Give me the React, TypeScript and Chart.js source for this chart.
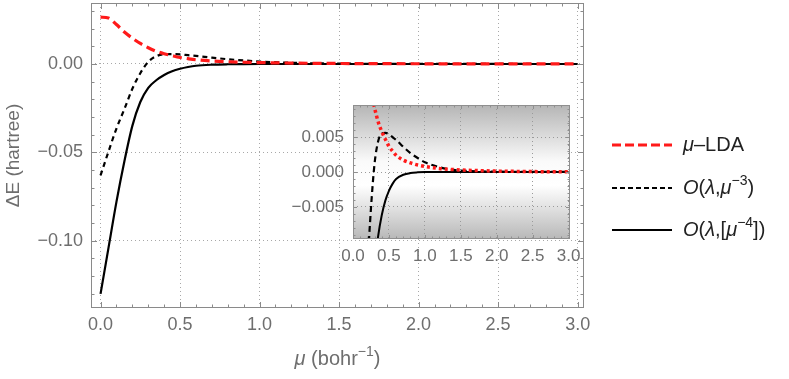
import React, { useEffect, useRef } from 'react';
import { Chart, registerables } from 'chart.js';

Chart.register(...registerables);

// ---------- data ----------
const MU = [0, 0.05, 0.1, 0.15, 0.2, 0.25, 0.3, 0.35, 0.4, 0.45, 0.5, 0.55, 0.6, 0.7, 0.8, 0.9, 1.0, 1.2, 1.4, 1.6, 1.8, 2.0, 2.5, 3.0];
const LDA = [0.0265, 0.026, 0.0223, 0.0181, 0.0146, 0.0116, 0.0092, 0.0072, 0.0058, 0.0047, 0.0037, 0.0030, 0.0024, 0.0017, 0.0013, 0.0010, 0.0008, 0.0005, 0.00035, 0.00025, 0.00018, 0.00013, 0.00006, 0.00003];
const ORDER3 = [-0.063, -0.0495, -0.0365, -0.0255, -0.014, -0.0052, 0.0012, 0.0044, 0.0055, 0.0056, 0.0054, 0.0050, 0.0046, 0.0036, 0.0027, 0.0020, 0.0014, 0.0007, 0.0003, 0.00015, 0.00008, 0.00005, 0.00002, 0.00001];
const ORDER4 = [-0.130, -0.104, -0.078, -0.055, -0.035, -0.0215, -0.0135, -0.0092, -0.0062, -0.0041, -0.0027, -0.0017, -0.0010, -0.0004, -0.00015, -0.00005, 0, 0, 0, 0, 0, 0, 0, 0];

const MAIN_X_TICKS = [0, 0.5, 1.0, 1.5, 2.0, 2.5, 3.0];
const MAIN_Y_TICKS = [-0.1, -0.05, 0];
const INSET_X_TICKS = [0, 0.5, 1.0, 1.5, 2.0, 2.5, 3.0];
const INSET_Y_TICKS = [-0.005, 0, 0.005];

const Y_TITLE = 'ΔE (hartree)';

type Seg = { t: string; it?: boolean; sup?: boolean };
const LEGEND_LABELS: Seg[][] = [
  [{ t: 'μ', it: true }, { t: '–LDA' }],
  [{ t: 'O', it: true }, { t: '(' }, { t: 'λ', it: true }, { t: ',' }, { t: 'μ', it: true }, { t: '−3', sup: true }, { t: ')' }],
  [{ t: 'O', it: true }, { t: '(' }, { t: 'λ', it: true }, { t: ',[' }, { t: 'μ', it: true }, { t: '−4', sup: true }, { t: '])' }],
];
const X_TITLE_SEGS: Seg[] = [{ t: 'μ', it: true }, { t: ' (bohr' }, { t: '−1', sup: true }, { t: ')' }];

// ---------- styles ----------
const FONT = '"Liberation Sans", Arial, Helvetica, sans-serif';
const RED = '#ff1a1a';
const BLACK = '#000000';
const TICK_COLOR = '#6e6e6e';
const FRAME_COLOR = '#8a8a8a';
const GRID_COLOR = '#a8a8a8';

const pts = (xs: number[], ys: number[]) => xs.map((x, i) => ({ x, y: ys[i] }));
const fmtSigned = (v: number, d: number) => {
  const s = Math.abs(v).toFixed(d);
  return v < -1e-12 ? '\u2212' + s : s;
};

function drawRich(ctx: CanvasRenderingContext2D, segs: Seg[], x: number, y: number, size: number, color: string, align: 'left' | 'center') {
  ctx.save();
  ctx.fillStyle = color;
  ctx.textBaseline = 'middle';
  ctx.textAlign = 'left';
  const fontFor = (s: Seg) => `${s.it ? 'italic ' : ''}${s.sup ? Math.round(size * 0.72) : size}px ${FONT}`;
  let w = 0;
  for (const s of segs) {
    ctx.font = fontFor(s);
    w += ctx.measureText(s.t).width;
  }
  let cx = align === 'center' ? x - w / 2 : x;
  for (const s of segs) {
    ctx.font = fontFor(s);
    ctx.fillText(s.t, cx, s.sup ? y - size * 0.36 : y);
    cx += ctx.measureText(s.t).width;
  }
  ctx.restore();
}

type FrameCfg = { xMinor: number; xMajor: number; yMinor: number; yMajor: number; majorLen: number; minorLen: number; color: string };

function drawFrame(chart: any, cfg: FrameCfg) {
  const { ctx, chartArea: a, scales } = chart;
  const xs = scales.x, ys = scales.y;
  ctx.save();
  ctx.strokeStyle = cfg.color;
  ctx.lineWidth = 1;
  ctx.beginPath();
  const isMajor = (v: number, m: number) => Math.abs(v / m - Math.round(v / m)) < 1e-6;
  for (let i = Math.ceil(xs.min / cfg.xMinor - 1e-9); i * cfg.xMinor <= xs.max + 1e-9; i++) {
    const v = i * cfg.xMinor;
    const len = isMajor(v, cfg.xMajor) ? cfg.majorLen : cfg.minorLen;
    const px = Math.round(xs.getPixelForValue(v)) + 0.5;
    ctx.moveTo(px, a.bottom); ctx.lineTo(px, a.bottom - len);
    ctx.moveTo(px, a.top); ctx.lineTo(px, a.top + len);
  }
  for (let i = Math.ceil(ys.min / cfg.yMinor - 1e-9); i * cfg.yMinor <= ys.max + 1e-9; i++) {
    const v = i * cfg.yMinor;
    const len = isMajor(v, cfg.yMajor) ? cfg.majorLen : cfg.minorLen;
    const py = Math.round(ys.getPixelForValue(v)) + 0.5;
    ctx.moveTo(a.left, py); ctx.lineTo(a.left + len, py);
    ctx.moveTo(a.right, py); ctx.lineTo(a.right - len, py);
  }
  ctx.stroke();
  ctx.strokeRect(Math.round(a.left) + 0.5, Math.round(a.top) + 0.5, Math.round(a.right - a.left) - 1, Math.round(a.bottom - a.top) - 1);
  ctx.restore();
}

const LEGEND_STYLES = [
  { color: RED, dash: [9, 4], width: 3.2 },
  { color: BLACK, dash: [5, 3], width: 2 },
  { color: BLACK, dash: [] as number[], width: 2 },
];

const mainPlugin = {
  id: 'mainDecor',
  afterDraw(chart: any) {
    drawFrame(chart, { xMinor: 0.1, xMajor: 0.5, yMinor: 0.01, yMajor: 0.05, majorLen: 6, minorLen: 3.5, color: FRAME_COLOR });
    const { ctx, chartArea: a } = chart;
    drawRich(ctx, X_TITLE_SEGS, (a.left + a.right) / 2, chart.height - 20, 20, TICK_COLOR, 'center');
    const rows = [145, 188, 230];
    LEGEND_LABELS.forEach((segs, i) => {
      const st = LEGEND_STYLES[i];
      ctx.save();
      ctx.strokeStyle = st.color;
      ctx.lineWidth = st.width;
      ctx.setLineDash(st.dash);
      ctx.beginPath();
      ctx.moveTo(612, rows[i]);
      ctx.lineTo(672, rows[i]);
      ctx.stroke();
      ctx.restore();
      drawRich(ctx, segs, 683, rows[i], 20, '#222222', 'left');
    });
  },
};

const insetPlugin = {
  id: 'insetDecor',
  beforeDraw(chart: any) {
    const { ctx, chartArea: a } = chart;
    const g = ctx.createLinearGradient(0, a.top, 0, a.bottom);
    g.addColorStop(0, '#b5b5b5');
    g.addColorStop(0.42, '#fafafa');
    g.addColorStop(0.6, '#ffffff');
    g.addColorStop(1, '#b8b8b8');
    ctx.save();
    ctx.fillStyle = g;
    ctx.fillRect(a.left, a.top, a.right - a.left, a.bottom - a.top);
    ctx.restore();
  },
  afterDraw(chart: any) {
    drawFrame(chart, { xMinor: 0.1, xMajor: 0.5, yMinor: 0.001, yMajor: 0.005, majorLen: 4, minorLen: 2.5, color: '#8f8f8f' });
  },
};

const noVPad = (s: any) => { s.paddingTop = 0; s.paddingBottom = 0; };

function mainConfig(): any {
  return {
    type: 'line',
    data: {
      datasets: [
        { label: 'LDA', data: pts(MU, LDA), borderColor: RED, borderWidth: 3.2, borderDash: [9, 5], pointRadius: 0, cubicInterpolationMode: 'monotone', fill: false },
        { label: 'O3', data: pts(MU, ORDER3), borderColor: BLACK, borderWidth: 2.2, borderDash: [5, 4], pointRadius: 0, cubicInterpolationMode: 'monotone', fill: false },
        { label: 'O4', data: pts(MU, ORDER4), borderColor: BLACK, borderWidth: 2.2, pointRadius: 0, cubicInterpolationMode: 'monotone', fill: false },
      ],
    },
    options: {
      responsive: false,
      animation: false,
      events: [],
      layout: { padding: { left: 0, right: 205, top: 3, bottom: 0 } },
      plugins: { legend: { display: false }, tooltip: { enabled: false } },
      scales: {
        x: {
          type: 'linear', min: -0.06, max: 3.04,
          afterBuildTicks: (s: any) => { s.ticks = MAIN_X_TICKS.map((v) => ({ value: v })); },
          afterFit: (s: any) => { s.height = 71; },
          ticks: { callback: (v: any) => Number(v).toFixed(1), color: TICK_COLOR, font: { family: FONT, size: 18 }, padding: 6, autoSkip: false, maxRotation: 0 },
          grid: { color: GRID_COLOR, lineWidth: 1, drawTicks: false },
          border: { display: false, dash: [1, 3] },
        },
        y: {
          type: 'linear', min: -0.138, max: 0.0345,
          afterBuildTicks: (s: any) => { s.ticks = MAIN_Y_TICKS.map((v) => ({ value: v })); },
          afterFit: (s: any) => { s.width = 91; noVPad(s); },
          ticks: { callback: (v: any) => fmtSigned(Number(v), 2), color: TICK_COLOR, font: { family: FONT, size: 18 }, padding: 8, autoSkip: false },
          grid: { color: GRID_COLOR, lineWidth: 1, drawTicks: false },
          border: { display: false, dash: [1, 3] },
          title: { display: true, text: Y_TITLE, color: TICK_COLOR, font: { family: FONT, size: 19 }, padding: { top: 2, bottom: 0 } },
        },
      },
    },
    plugins: [mainPlugin],
  };
}

function insetConfig(): any {
  return {
    type: 'line',
    data: {
      datasets: [
        { label: 'LDA', data: pts(MU, LDA), borderColor: RED, borderWidth: 3.5, borderDash: [3, 3], pointRadius: 0, cubicInterpolationMode: 'monotone', fill: false, clip: 0 },
        { label: 'O3', data: pts(MU, ORDER3), borderColor: BLACK, borderWidth: 2.2, borderDash: [6, 4], pointRadius: 0, cubicInterpolationMode: 'monotone', fill: false, clip: 0 },
        { label: 'O4', data: pts(MU, ORDER4), borderColor: BLACK, borderWidth: 2, pointRadius: 0, cubicInterpolationMode: 'monotone', fill: false, clip: 0 },
      ],
    },
    options: {
      responsive: false,
      animation: false,
      events: [],
      layout: { padding: { left: 0, right: 20, top: 10, bottom: 0 } },
      plugins: { legend: { display: false }, tooltip: { enabled: false } },
      scales: {
        x: {
          type: 'linear', min: 0, max: 3.02,
          afterBuildTicks: (s: any) => { s.ticks = INSET_X_TICKS.map((v) => ({ value: v })); },
          afterFit: (s: any) => { s.height = 31; },
          ticks: { callback: (v: any) => Number(v).toFixed(1), color: TICK_COLOR, font: { family: FONT, size: 17 }, padding: 7, autoSkip: false, maxRotation: 0 },
          grid: { color: '#9a9a9a', lineWidth: 1, drawTicks: false },
          border: { display: false, dash: [1, 3] },
        },
        y: {
          type: 'linear', min: -0.0096, max: 0.0096,
          afterBuildTicks: (s: any) => { s.ticks = INSET_Y_TICKS.map((v) => ({ value: v })); },
          afterFit: (s: any) => { s.width = 63; noVPad(s); },
          ticks: { callback: (v: any) => fmtSigned(Number(v), 3), color: TICK_COLOR, font: { family: FONT, size: 17 }, padding: 9, autoSkip: false },
          grid: { color: '#9a9a9a', lineWidth: 1, drawTicks: false },
          border: { display: false, dash: [1, 3] },
        },
      },
    },
    plugins: [insetPlugin],
  };
}

export default function App() {
  const mainRef = useRef<HTMLCanvasElement>(null);
  const insetRef = useRef<HTMLCanvasElement>(null);
  useEffect(() => {
    const main = new Chart(mainRef.current as HTMLCanvasElement, mainConfig());
    const inset = new Chart(insetRef.current as HTMLCanvasElement, insetConfig());
    return () => {
      main.destroy();
      inset.destroy();
    };
  }, []);
  return (
    <div style={{ position: 'absolute', left: 0, top: 0, width: 789, height: 379, background: '#ffffff' }}>
      <canvas ref={mainRef} width={789} height={379} style={{ position: 'absolute', left: 0, top: 0, width: 789, height: 379 }} />
      <canvas ref={insetRef} width={300} height={175} style={{ position: 'absolute', left: 290, top: 95, width: 300, height: 175 }} />
    </div>
  );
}
